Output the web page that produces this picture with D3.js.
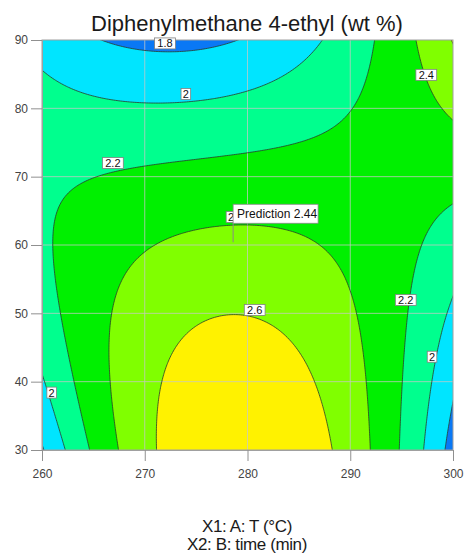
<!DOCTYPE html>
<html>
<head>
<meta charset="utf-8">
<script src="https://cdn.jsdelivr.net/npm/d3@7"></script>
<style>
  html, body { margin: 0; padding: 0; background: #fff; }
  svg { display: block; font-family: "Liberation Sans", Arial, sans-serif; }
</style>
</head>
<body>
<svg id="chart" width="465" height="556"></svg>
<script>
// ---- data ----
// coded factors: a = (T - 280)/20, b = (time - 60)/30
const termNames = ["1", "B", "B²", "A", "AB", "AB²", "A²", "A²B", "A²B²"];
const coefficients = [2.449, -0.4875, -0.1465, -0.031, 0.187, 0.187, -0.31, 0.746, 0.016];
const xTicks = [260, 270, 280, 290, 300];
const yTicks = [30, 40, 50, 60, 70, 80, 90];
const levels = [1.8, 2.0, 2.2, 2.4, 2.6];
const bandColors = ["#0a78f5", "#00e5ff", "#00ff8e", "#00f000", "#80ff00", "#fff200"];
const labelT = [271.97, 274.0, 266.9, 297.4, 278.39, 280.7, 295.4, 297.96, 260.94];
const labelTime = [89.5, 82.1, 72.0, 84.9, 64.1, 50.5, 51.95, 43.65, 38.4];
// the label at 278.4 / 64.1 is mostly hidden behind the prediction flag; only its "2" shows
const labelText = ["1.8", "2", "2.2", "2.4", "2", "2.6", "2.2", "2", "2"];
const prediction = { T: 278.6, time: 60.4, value: 2.44 };

const title = "Diphenylmethane 4-ethyl (wt %)";
const xTitle = "X1: A: T (°C)";
const yTitle = "X2: B: time (min)";

// ---- layout ----
const svg = d3.select("#chart");
const x = d3.scaleLinear().domain([260, 300]).range([42, 453]);
const y = d3.scaleLinear().domain([30, 90]).range([450, 40]);

function model(T, t) {
  const a = (T - 280) / 20, b = (t - 60) / 30;
  const terms = [1, b, b * b, a, a * b, a * b * b, a * a, a * a * b, a * a * b * b];
  return d3.sum(terms, (v, i) => v * coefficients[i]);
}

// grid extends beyond the plotted domain, then clipped
const nx = 261, ny = 261;
const T0 = 258, T1 = 302, t0 = 28, t1 = 92;
const values = new Array(nx * ny);
for (let j = 0; j < ny; j++) {
  const t = t0 + (t1 - t0) * j / (ny - 1);
  for (let i = 0; i < nx; i++) {
    const T = T0 + (T1 - T0) * i / (nx - 1);
    values[j * nx + i] = model(T, t);
  }
}
const gx = c => T0 + (c - 0.5) * (T1 - T0) / (nx - 1);
const gy = c => t0 + (c - 0.5) * (t1 - t0) / (ny - 1);
const path = d3.geoPath(d3.geoTransform({
  point(px, py) { this.stream.point(x(gx(px)), y(gy(py))); }
}));
const contours = d3.contours().size([nx, ny]).thresholds(levels)(values);

svg.append("defs").append("clipPath").attr("id", "plotClip")
  .append("rect").attr("x", x(260)).attr("y", y(90))
  .attr("width", x(300) - x(260)).attr("height", y(30) - y(90));

const plot = svg.append("g").attr("clip-path", "url(#plotClip)");
plot.append("rect").attr("x", x(260)).attr("y", y(90))
  .attr("width", x(300) - x(260)).attr("height", y(30) - y(90))
  .attr("fill", bandColors[0]);
plot.selectAll("path.band").data(contours).join("path")
  .attr("class", "band")
  .attr("d", path)
  .attr("fill", (d, i) => bandColors[i + 1]);

// grid lines
plot.selectAll("line.gx").data(xTicks.slice(1, -1)).join("line")
  .attr("x1", d => x(d)).attr("x2", d => x(d))
  .attr("y1", y(90)).attr("y2", y(30))
  .attr("stroke", "#c8c8c8").attr("stroke-width", 1).attr("opacity", 0.75);
plot.selectAll("line.gy").data(yTicks.slice(1, -1)).join("line")
  .attr("y1", d => y(d)).attr("y2", d => y(d))
  .attr("x1", x(260)).attr("x2", x(300))
  .attr("stroke", "#c8c8c8").attr("stroke-width", 1).attr("opacity", 0.75);

// contour lines
plot.selectAll("path.line").data(contours).join("path")
  .attr("class", "line")
  .attr("d", path)
  .attr("fill", "none")
  .attr("stroke", "#2a3a2a")
  .attr("stroke-width", 0.8);

// border
svg.append("rect").attr("x", x(260)).attr("y", y(90))
  .attr("width", x(300) - x(260)).attr("height", y(30) - y(90))
  .attr("fill", "none").attr("stroke", "#a0a0a0").attr("stroke-width", 1);

// contour labels
const lab = svg.append("g").attr("font-size", 11);
labelText.forEach((txt, i) => {
  const cx = x(labelT[i]), cy = y(labelTime[i]);
  const w = txt.length * 5.6 + 4;
  lab.append("rect").attr("x", cx - w / 2).attr("y", cy - 5.5)
    .attr("width", w).attr("height", 11)
    .attr("fill", "#fff").attr("stroke", "#808080").attr("stroke-width", 0.8);
  lab.append("text").attr("x", cx).attr("y", cy + 4)
    .attr("text-anchor", "middle").attr("fill", "#111").text(txt);
});

// prediction flag
const px = x(prediction.T), py = y(prediction.time);
svg.append("line").attr("x1", px).attr("x2", px).attr("y1", py).attr("y2", py - 20)
  .attr("stroke", "#888").attr("stroke-width", 1);
svg.append("rect").attr("x", px).attr("y", py - 38).attr("width", 85).attr("height", 19)
  .attr("fill", "#fff").attr("stroke", "#888").attr("stroke-width", 0.8);
svg.append("text").attr("x", px + 4).attr("y", py - 24)
  .attr("font-size", 12).attr("fill", "#111")
  .text("Prediction " + prediction.value.toFixed(2));

// axes
const yAxis = svg.append("g").attr("transform", `translate(${x(260)},0)`)
  .call(d3.axisLeft(y).tickValues(yTicks).tickSize(11).tickPadding(3).tickFormat(d3.format("d")));
const xAxis = svg.append("g").attr("transform", `translate(0,${y(30)})`)
  .call(d3.axisBottom(x).tickValues(xTicks).tickSize(11).tickPadding(8).tickFormat(d3.format("d")));
[yAxis, xAxis].forEach(g => {
  g.select(".domain").attr("stroke", "#a0a0a0");
  g.selectAll(".tick line").attr("stroke", "#909090");
  g.selectAll(".tick text").attr("font-size", 12).attr("fill", "#444")
    .attr("font-family", "Liberation Sans, Arial, sans-serif");
});

// titles
svg.append("text").attr("x", 247).attr("y", 31).attr("text-anchor", "middle")
  .attr("font-size", 22).attr("fill", "#1a1a1a").text(title);
svg.append("text").attr("x", 247).attr("y", 532).attr("text-anchor", "middle")
  .attr("font-size", 17).attr("fill", "#1a1a1a").attr("letter-spacing", -0.4).text(xTitle);
svg.append("text").attr("x", 247).attr("y", 550).attr("text-anchor", "middle")
  .attr("font-size", 17).attr("fill", "#1a1a1a").attr("letter-spacing", -0.4).text(yTitle);
</script>
</body>
</html>
